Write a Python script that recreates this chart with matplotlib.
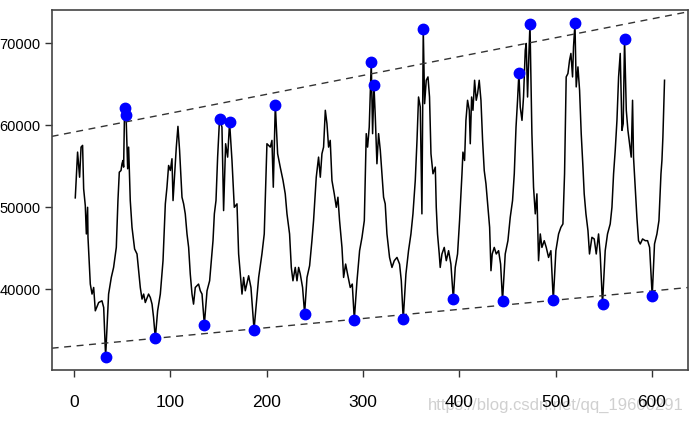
import numpy as np
import matplotlib
matplotlib.use("Agg")
import matplotlib.pyplot as plt

# series (index, value)
t = [1.2, 3.6, 5.7, 7.2, 8.8, 9.9, 11.6, 12.7, 14.0, 14.4, 16.8, 18.6, 20.3, 22.0, 25.5, 28.9, 30.7, 32.7,
     35.8, 38.6, 41.0, 43.8, 45.5, 46.9, 48.7, 49.7, 50.7, 51.4, 52.4, 53.9, 55.6, 56.6, 58.3, 60.1, 62.8,
     65.3, 66.3, 68.7, 70.5, 72.2, 73.9, 77.3, 79.1, 80.9, 82.5, 84.3,
     86.7, 89.5, 92.3, 94.7, 96.4, 98.1, 99.9, 101.6, 102.7, 104.0, 106.1, 107.8, 109.5, 112.0, 113.7,
     115.4, 117.2, 118.9, 120.6, 122.4, 124.0, 125.8, 129.2, 131.0, 132.8, 135.2,
     138.0, 140.7, 142.4, 144.2, 145.6, 147.3, 149.0, 151.0, 153.5, 155.2, 157.3, 159.4, 161.4, 163.9,
     166.3, 169.1, 170.8, 172.5, 174.3, 176.0, 177.7, 181.2, 183.6, 186.8,
     191.6, 195.0, 197.4, 200.2, 203.7, 205.4, 206.8, 208.9, 211.3, 214.0, 216.9, 219.2, 221.0, 223.7,
     225.5, 227.2, 229.6, 231.4, 233.1, 234.8, 237.2, 239.3,
     241.8, 244.5, 246.9, 248.6, 251.4, 253.8, 255.6, 257.3, 259.0, 260.8, 262.5, 264.2, 265.9, 267.7,
     270.1, 272.2, 273.9, 275.6, 278.1, 279.8, 281.9, 283.9, 286.7, 288.8, 290.9,
     293.7, 296.4, 298.9, 301.3, 303.3, 304.7, 306.4, 308.5, 309.9, 311.3, 312.7, 314.4, 316.1, 317.9,
     319.6, 321.3, 323.0, 324.8, 327.5, 330.0, 332.4, 335.2, 337.9, 339.7, 341.7,
     344.5, 347.2, 349.7, 351.8, 354.2, 356.0, 357.6, 359.4, 361.1, 362.5, 363.9, 365.6, 367.4, 369.0,
     370.5, 372.6, 375.0, 376.0, 377.3, 379.1, 380.1, 381.9, 384.3, 386.4, 388.8, 391.2, 393.7,
     395.7, 398.1, 400.2, 402.7, 403.7, 405.4, 406.8, 408.5, 410.3, 411.3, 412.7, 414.1, 415.8, 417.5,
     418.9, 420.6, 422.4, 424.1, 425.8, 427.6, 429.7, 431.4, 432.8, 434.1, 436.2, 438.3, 440.7, 442.8, 444.8,
     447.6, 450.4, 452.8, 455.2, 457.0, 458.8, 460.4, 461.8, 463.2, 465.0, 466.6, 468.4, 469.4, 470.8,
     472.2, 473.3, 475.3, 477.0, 478.8, 480.5, 482.2, 484.0, 485.7, 488.1, 490.2, 492.6, 495.0, 497.5,
     500.2, 503.0, 505.4, 507.5, 509.2, 510.9, 512.7, 514.4, 515.8, 517.5, 518.5, 520.0, 521.3, 523.1,
     524.8, 526.5, 528.3, 529.6, 531.4, 533.5, 535.1, 537.6, 540.0, 542.1, 544.5, 546.2, 548.6,
     551.4, 553.8, 556.6, 558.4, 560.1, 561.8, 563.6, 565.3, 567.0, 568.8, 570.1, 571.5, 573.3, 575.0,
     576.7, 578.4, 579.8, 580.8, 582.6, 584.3, 586.0, 587.8, 590.2, 593.0, 595.4, 597.5, 600.2,
     602.6, 605.1, 607.2, 609.3, 610.3, 611.3, 613.0]

vals = [51170, 56750, 53690, 57360, 57570, 52270, 50230, 46770, 50020, 46360, 40660, 39440, 40245, 37400, 38410, 38620, 37800, 31800,
        39440, 41470, 42690, 45135, 50840, 54300, 54510, 55330, 55730, 54920, 62180, 61320, 54720, 57360, 50840, 47580, 44940,
        44330, 43100, 40245, 38830, 39440, 38410, 39440, 39020, 38215, 36580, 34050,
        37400, 39440, 43510, 50440, 52470, 55120, 54510, 55940, 50840, 53290, 57360, 59890, 56960, 51250, 50440,
        49220, 46770, 45130, 41880, 39440, 38215, 40245, 40660, 39840, 39440, 35720,
        39840, 41060, 43510, 45950, 49220, 50840, 56140, 60830, 59800, 49620, 57770, 56140, 60420, 55730,
        50020, 50440, 44330, 41880, 39440, 41470, 39840, 41670, 40245, 35110,
        41470, 44330, 46770, 57770, 57360, 58180, 52470, 62540, 56550, 54920, 53290, 51660, 49220, 46770,
        42690, 41060, 42690, 41060, 42690, 41880, 40245, 37070,
        41470, 42900, 45950, 48400, 53690, 56140, 53690, 56550, 57360, 61850, 60220, 57360, 58180, 53290,
        51660, 50020, 51250, 48400, 45130, 41470, 43100, 41880, 40245, 40660, 36330,
        41060, 44730, 46360, 48400, 59000, 57360, 59800, 67750, 59000, 64940, 61030, 55330, 59000, 56960,
        54110, 51250, 50440, 46770, 43910, 42690, 43510, 43910, 43100, 41060, 36380,
        41880, 44730, 46770, 49220, 53290, 58180, 63470, 62250, 49220, 71750, 62660, 65510, 65920, 63470,
        56550, 54110, 54920, 50020, 46770, 44330, 42690, 44330, 45130, 43510, 44730, 43100, 38830,
        42690, 44330, 48400, 54110, 56750, 55730, 60620, 63070, 61850, 57770, 63470, 61850, 65510, 63070,
        63880, 65510, 63070, 58180, 54510, 52880, 50020, 47580, 42290, 44330, 45130, 44330, 44730, 43100, 38620,
        44330, 45950, 48800, 50840, 54110, 59800, 63070, 66410, 62250, 60620, 63470, 69180, 70000, 63470,
        68780, 72360, 59000, 52470, 49220, 51660, 43510, 46770, 45130, 45950, 45130, 43910, 44730, 38700,
        44730, 46770, 47580, 47990, 54110, 65920, 66330, 67960, 68780, 65920, 69590, 72440, 64700, 67140,
        64290, 59000, 54920, 51660, 49220, 47180, 44330, 46360, 46160, 44330, 46770, 44330, 38215,
        44730, 46770, 47990, 50020, 54110, 56960, 60620, 65920, 68780, 59400, 60220, 70560, 61850, 59400,
        57770, 56140, 63070, 56140, 52470, 48800, 45950, 45550, 46160, 45950, 45950, 45130, 39190,
        45550, 46770, 48400, 54110, 55730, 58580, 65510]

# marked extremes
peak_x = [52.4, 53.9, 151.0, 161.4, 208.9, 308.5, 311.3, 362.5, 461.8, 473.3, 520.0, 571.5]
peak_y = [62180, 61320, 60830, 60420, 62540, 67750, 64940, 71750, 66410, 72360, 72440, 70560]
trough_x = [32.7, 84.3, 135.2, 186.8, 239.3, 290.9, 341.7, 393.7, 444.8, 497.5, 548.6, 600.2]
trough_y = [31800, 34050, 35720, 35110, 37070, 36330, 36380, 38830, 38620, 38700, 38215, 39190]

# trend lines (intercept, slope)
upper = (59200, 23.0)
lower = (33100, 11.2)

watermark = "https://blog.csdn.net/qq_19600291"

plt.rcParams['font.family'] = ['Liberation Sans', 'DejaVu Sans']

fig = plt.figure(figsize=(6.94, 4.21), dpi=100)
ax = fig.add_axes([0.0745, 0.121, 0.917, 0.855])

ax.plot(t, vals, color='black', lw=1.1)
ax.plot(peak_x, peak_y, 'o', color='blue', ms=7.5, zorder=3)
ax.plot(trough_x, trough_y, 'o', color='blue', ms=7.5, zorder=3)

ax.margins(x=0.04, y=0.04)
ax.autoscale_view()
ax.set_autoscale_on(False)

for a, b in (upper, lower):
    ax.axline((0, a), slope=b, color='#333333', lw=1.0, ls=(0, (5, 4)))

ax.set_xticks([0, 100, 200, 300, 400, 500, 600])
ax.set_yticks([40000, 50000, 60000, 70000])
ax.tick_params(direction='out', length=5, width=1.0, color='#333333')
ax.tick_params(axis='x', labelsize=12.5, pad=13)
ax.tick_params(axis='y', labelsize=10.5, pad=3)
for s in ax.spines.values():
    s.set_color('#444444')
    s.set_linewidth(1.2)

# faint blog watermark behind the x labels
fig.text(0.985, 0.038, watermark, ha='right', va='center', fontsize=12,
         color='#d0d0d0', family=['Liberation Sans Narrow', 'Liberation Sans'], zorder=-1)

fig.savefig('out.png', dpi=100)
